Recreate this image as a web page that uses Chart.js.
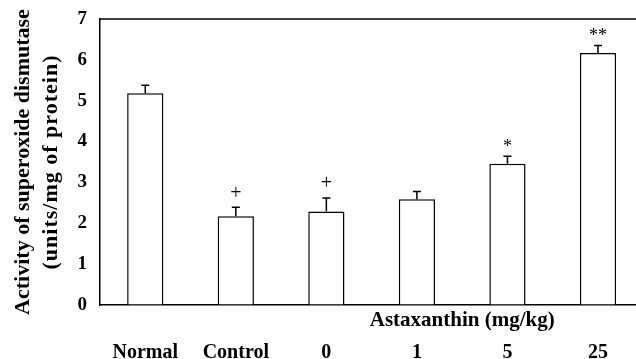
<!DOCTYPE html>
<html>
<head>
<meta charset="utf-8">
<script src="https://cdn.jsdelivr.net/npm/chart.js@4"></script>
<style>
  html,body{margin:0;padding:0;background:#fff;overflow:hidden}
  #wrap{width:644px;height:359px}
</style>
</head>
<body>
<div id="wrap"><canvas id="c" width="644" height="359"></canvas></div>
<script>
const groups=['Normal','Control','0','1','5','25'];
const sod=[5.18,2.17,2.29,2.59,3.46,6.17];
const sem=[0.20,0.22,0.33,0.19,0.18,0.18];
const marks=['','+','+','','*','**'];
const yTicks=[0,1,2,3,4,5,6,7];
const yTitle=['Activity of superoxide dismutase','(units/mg of protein)'];
const doseTitle='Astaxanthin (mg/kg)';

(function(){
  const serif='"Liberation Serif","Times New Roman",serif';

  // error bars, significance marks, top frame line and the extra text
  const extras={
    id:'extras',
    afterDatasetsDraw(chart){
      const {ctx,chartArea,scales}=chart;const x=scales.x,y=scales.y;
      ctx.save();
      ctx.strokeStyle='#000';ctx.lineWidth=1.5;
      sod.forEach((v,i)=>{
        const px=x.getPixelForValue(i),top=y.getPixelForValue(v+sem[i]),base=y.getPixelForValue(v);
        ctx.beginPath();ctx.moveTo(px,base);ctx.lineTo(px,top);ctx.moveTo(px-4,top);ctx.lineTo(px+4,top);ctx.stroke();
        if(marks[i]){
          ctx.fillStyle='#000';ctx.textAlign='center';ctx.textBaseline='middle';
          ctx.font=(marks[i]=='+'?'20px ':'18px ')+serif;
          ctx.fillText(marks[i],px,top-(marks[i]=='+'?14:9));
        }
      });
      ctx.beginPath();ctx.moveTo(chartArea.left,chartArea.top);ctx.lineTo(chartArea.right,chartArea.top);ctx.stroke();
      ctx.fillStyle='#000';ctx.font='bold 21px '+serif;ctx.textAlign='center';ctx.textBaseline='middle';
      ctx.fillText(doseTitle,(x.getPixelForValue(2)+x.getPixelForValue(5))/2,chartArea.bottom+16);
      const cy=(chartArea.top+chartArea.bottom)/2;
      ctx.translate(23,cy);ctx.rotate(-Math.PI/2);
      ctx.font='bold 22px '+serif;
      ctx.fillText(yTitle[0],0,0);
      ctx.letterSpacing='1px';
      ctx.fillText(yTitle[1],0,28);
      ctx.restore();
    }
  };

  function init(){
    new Chart(document.getElementById('c'),{
      type:'bar',
      data:{labels:groups,datasets:[{data:sod,backgroundColor:'#fff',borderColor:'#000',borderWidth:1.5,categoryPercentage:1,barPercentage:0.4}]},
      options:{
        responsive:false,animation:false,
        layout:{padding:{top:19,left:0,right:0,bottom:0}},
        plugins:{legend:{display:false},tooltip:{enabled:false}},
        scales:{
          x:{grid:{display:true,drawOnChartArea:false,drawTicks:false},border:{display:true,color:'#000',width:1.5},
             ticks:{color:'#000',font:{family:serif,size:20,weight:'bold'},padding:36,maxRotation:0},
             afterFit(s){s.height=54;}},
          y:{min:0,max:7,grid:{display:true,drawOnChartArea:false,drawTicks:false},border:{display:true,color:'#000',width:1.5},
             afterBuildTicks(s){s.ticks=yTicks.map(v=>({value:v}));},
             ticks:{color:'#000',font:{family:serif,size:19,weight:'bold'},padding:13},
             afterFit(s){s.width=100;s.paddingTop=0;s.paddingBottom=0;}}
        }
      },
      plugins:[extras]
    });
  }
  window.addEventListener('DOMContentLoaded',init);
})();
</script>
</body>
</html>
